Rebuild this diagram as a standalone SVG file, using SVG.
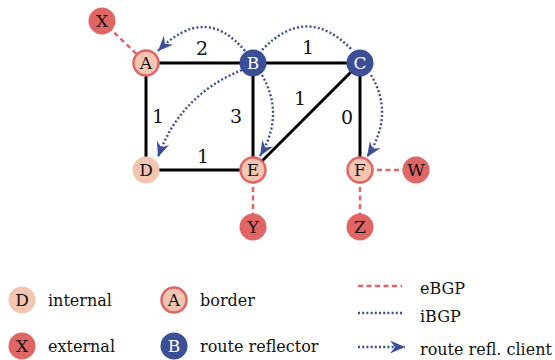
<svg xmlns="http://www.w3.org/2000/svg" width="555" height="360" viewBox="0 0 555 360">
  <defs>
    <marker id="arrow" markerUnits="userSpaceOnUse" viewBox="-16 -7 17 14" markerWidth="17" markerHeight="14" refX="0" refY="0" orient="auto">
      <path d="M0,0 L-15,-6.5 L-10,0 L-15,6.5 Z" fill="#3b4f96"/>
    </marker>
    <style>
      .edge { stroke: #000; stroke-width: 3; fill: none; }
      .ebgp { stroke: #e06666; stroke-width: 2.5; stroke-dasharray: 5 3.5; fill: none; }
      .ibgp { stroke: #3b4f96; stroke-width: 2.4; stroke-dasharray: 2 2.2; fill: none; }
      .internal { fill: #f4c6b2; }
      .border { fill: #f4c6b2; stroke: #e06666; stroke-width: 2.5; }
      .external { fill: #e06666; }
      .reflector { fill: #3b4f96; }
      .lbl { font-size: 17px; text-anchor: middle; fill: #111; }
      .lbl-w { font-size: 17px; text-anchor: middle; fill: #fff; }
      .w { font-size: 19px; text-anchor: middle; fill: #111; }
      .leg { font-size: 16px; fill: #111; }
    </style>
  </defs>

  <g font-family="DejaVu Serif, Liberation Serif, serif">
  <!-- physical links, eBGP sessions and iBGP sessions -->
  <g id="connectors">
    <line class="edge" x1="146" y1="63" x2="253" y2="63"/>
    <line class="edge" x1="253" y1="63" x2="360" y2="63"/>
    <line class="edge" x1="146" y1="63" x2="146" y2="170"/>
    <line class="edge" x1="253" y1="63" x2="253" y2="170"/>
    <line class="edge" x1="146" y1="170" x2="253" y2="170"/>
    <line class="edge" x1="360" y1="63" x2="360" y2="170"/>
    <line class="edge" x1="360" y1="63" x2="253" y2="170"/>

    <line class="ebgp" x1="102" y1="21" x2="146" y2="63"/>
    <line class="ebgp" x1="253" y1="170" x2="253" y2="227"/>
    <line class="ebgp" x1="360" y1="170" x2="360" y2="227"/>
    <line class="ebgp" x1="360" y1="170" x2="416" y2="170"/>

    <path class="ibgp" d="M245,51 Q205,3 158,51" marker-end="url(#arrow)"/>
    <path class="ibgp" d="M262,50 Q307,3 352,50"/>
    <path class="ibgp" d="M371,75 Q395,115 367,157" marker-end="url(#arrow)"/>
    <path class="ibgp" d="M262,75 Q285,115 260,156" marker-end="url(#arrow)"/>
    <path class="ibgp" d="M242,70 Q180,95 158,157" marker-end="url(#arrow)"/>
  </g>

  <!-- link weights -->
  <g id="weights">
    <text class="w" x="202" y="55">2</text>
    <text class="w" x="308" y="54">1</text>
    <text class="w" x="158" y="123">1</text>
    <text class="w" x="236" y="123">3</text>
    <text class="w" x="300" y="105">1</text>
    <text class="w" x="347" y="124">0</text>
    <text class="w" x="203" y="163">1</text>
  </g>

  <g id="node-A"><circle class="border" cx="146" cy="63" r="12.5"/><text class="lbl" x="146" y="69">A</text></g>
  <g id="node-B"><circle class="reflector" cx="253" cy="63" r="13.5"/><text class="lbl-w" x="253" y="69">B</text></g>
  <g id="node-C"><circle class="reflector" cx="360" cy="63" r="13.5"/><text class="lbl-w" x="360" y="69">C</text></g>
  <g id="node-D"><circle class="internal" cx="146" cy="170" r="13.5"/><text class="lbl" x="146" y="176">D</text></g>
  <g id="node-E"><circle class="border" cx="253" cy="170" r="12.5"/><text class="lbl" x="253" y="176">E</text></g>
  <g id="node-F"><circle class="border" cx="360" cy="170" r="12.5"/><text class="lbl" x="360" y="176">F</text></g>
  <g id="node-X"><circle class="external" cx="102" cy="21" r="13.5"/><text class="lbl" x="102" y="27">X</text></g>
  <g id="node-Y"><circle class="external" cx="253" cy="227" r="13.5"/><text class="lbl" x="253" y="233">Y</text></g>
  <g id="node-Z"><circle class="external" cx="360" cy="227" r="13.5"/><text class="lbl" x="360" y="233">Z</text></g>
  <g id="node-W"><circle class="external" cx="416" cy="170" r="13.5"/><text class="lbl" x="416" y="176">W</text></g>

  <!-- legend -->
  <g id="legend">
    <circle class="internal" cx="22" cy="300" r="13.5"/><text class="lbl" x="22" y="306">D</text>
    <text class="leg" x="48" y="306">internal</text>
    <circle class="border" cx="174" cy="300" r="12.5"/><text class="lbl" x="174" y="306">A</text>
    <text class="leg" x="200" y="306">border</text>
    <circle class="external" cx="22" cy="346" r="13.5"/><text class="lbl" x="22" y="352">X</text>
    <text class="leg" x="48" y="352">external</text>
    <circle class="reflector" cx="174" cy="346" r="13.5"/><text class="lbl-w" x="174" y="352">B</text>
    <text class="leg" x="200" y="352">route reflector</text>

    <line class="ebgp" x1="358" y1="286" x2="402" y2="286"/>
    <text class="leg" x="420" y="294">eBGP</text>
    <line class="ibgp" x1="358" y1="313" x2="402" y2="313"/>
    <text class="leg" x="420" y="322">iBGP</text>
    <line class="ibgp" x1="358" y1="347" x2="405" y2="347" marker-end="url(#arrow)"/>
    <text class="leg" x="420" y="355">route refl. client</text>
  </g>
  </g>
</svg>
